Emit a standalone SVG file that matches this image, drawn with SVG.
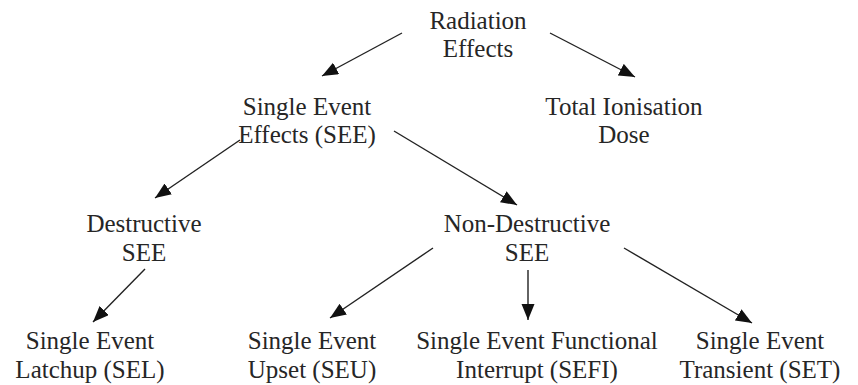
<svg xmlns="http://www.w3.org/2000/svg" width="858" height="385" viewBox="0 0 858 385">
<style>
text{font-family:'Liberation Serif','Noto Serif','DejaVu Serif',serif;font-size:25px;fill:#262626;text-anchor:middle}
.c line{stroke:#222;stroke-width:1.4;marker-end:url(#ah)}
</style>
<defs>
<marker id="ah" markerUnits="userSpaceOnUse" markerWidth="18" markerHeight="14" refX="16" refY="6.5" orient="auto">
<path d="M0,0 L16,6.5 L0,13 Z" fill="#111"/>
</marker>
</defs>
<rect width="858" height="385" fill="#fff"/>
<g id="rad"><text x="478" y="29">Radiation</text><text x="478" y="57">Effects</text></g>
<g id="see"><text x="307" y="115">Single Event</text><text x="307" y="143">Effects (SEE)</text></g>
<g id="tid"><text x="624" y="115">Total Ionisation</text><text x="624" y="143">Dose</text></g>
<g id="dsee"><text x="144" y="232">Destructive</text><text x="144" y="261">SEE</text></g>
<g id="ndsee"><text x="527" y="232">Non-Destructive</text><text x="527" y="261">SEE</text></g>
<g id="sel"><text x="90" y="349">Single Event</text><text x="90" y="378">Latchup (SEL)</text></g>
<g id="seu"><text x="312" y="349">Single Event</text><text x="312" y="378">Upset (SEU)</text></g>
<g id="sefi"><text x="537" y="349">Single Event Functional</text><text x="537" y="378">Interrupt (SEFI)</text></g>
<g id="set"><text x="760" y="349">Single Event</text><text x="760" y="378">Transient (SET)</text></g>
<g class="c" id="connectors">
<line x1="402" y1="33" x2="322" y2="76"/>
<line x1="550" y1="33" x2="635" y2="77"/>
<line x1="394" y1="131" x2="517" y2="205"/>
<line x1="240" y1="140" x2="155" y2="198"/>
<line x1="145" y1="269" x2="93" y2="322"/>
<line x1="433" y1="248" x2="330" y2="318"/>
<line x1="528" y1="270" x2="528" y2="320"/>
<line x1="624" y1="248" x2="752" y2="323"/>
</g>
</svg>
